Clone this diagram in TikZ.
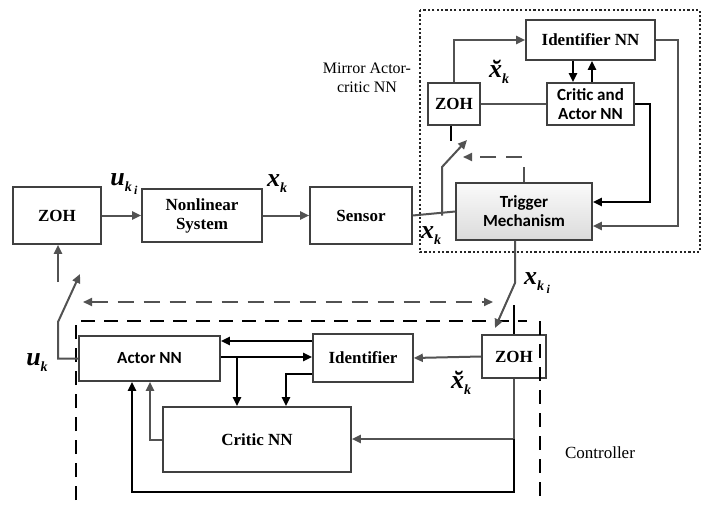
\documentclass[tikz,border=0pt]{standalone}
\usepackage{fontspec}
\setmainfont{Liberation Serif}
\newfontfamily\tms{Liberation Serif}
\newfontfamily\calib{Carlito}
\usetikzlibrary{arrows.meta}
\newcommand\bigv[1]{{\tms\fontsize{26}{28}\selectfont\bfseries\itshape #1}}
\newcommand\subk{\raisebox{-6pt}{\tms\fontsize{14}{14}\selectfont\bfseries\itshape k}}
\newcommand\subki{\raisebox{-6pt}{\tms\fontsize{14}{14}\selectfont\bfseries\itshape k\,\raisebox{-3pt}{\fontsize{12}{12}\selectfont i}}}
\begin{document}
\begin{tikzpicture}[x=1pt,y=-1pt,
  box/.style={draw=black!75, line width=1.6pt, inner sep=0pt, align=center,
    font=\tms\fontsize{17}{19}\selectfont\bfseries},
  sbox/.style={box, font=\calib\fontsize{17}{19}\selectfont\bfseries},
  gl/.style={draw=black!68, line width=2pt},
  bl/.style={draw=black, line width=2.3pt},
  arr/.style={-{Triangle[length=9pt,width=8pt]}},
  darr/.style={{Triangle[length=9pt,width=8pt]}-{Triangle[length=9pt,width=8pt]}},
  gdash/.style={gl, dash pattern=on 16pt off 10pt},
  lbl/.style={inner sep=0pt, anchor=center},
  txt/.style={inner sep=0pt, align=center, font=\tms\fontsize{16}{19}\selectfont},
]
\useasboundingbox (0,0) rectangle (704,506);

% top row
\node[box, minimum width=88, minimum height=57] (zohL) at (57,215.5) {ZOH};
\node[box, minimum width=120, minimum height=53] (nls) at (202,215.5) {Nonlinear\\System};
\node[box, minimum width=102, minimum height=57] (sensor) at (361,215.5) {Sensor};
\node[sbox, minimum width=136, minimum height=57, top color=black!2, bottom color=black!14] (trig) at (524,211.5) {Trigger\\Mechanism};

% mirror
\node[box, minimum width=52, minimum height=42] (zohM) at (454,104) {ZOH};
\node[box, minimum width=129, minimum height=40] (idnn) at (590.5,40) {Identifier NN};
\node[sbox, minimum width=87, minimum height=42] (can) at (590.5,104) {Critic and\\Actor NN};

% controller
\node[sbox, minimum width=141, minimum height=45] (actor) at (149.5,358.5) {Actor NN};
\node[box, minimum width=100, minimum height=48] (ident) at (363,358) {Identifier};
\node[box, minimum width=188, minimum height=65] (critic) at (257,439.5) {Critic NN};
\node[box, minimum width=64, minimum height=43] (zohC) at (514,356.5) {ZOH};

% frames
\draw[black!85, line width=1.8pt, dash pattern=on 2.2pt off 2.2pt] (420,10) rectangle (700,252);
\draw[black, line width=2pt, dash pattern=on 14pt off 9pt] (76,500) -- (76,321) -- (527,321);
\draw[black, line width=2pt, dash pattern=on 14pt off 9pt] (540,321) -- (540,500);

% coordinates
\coordinate (s1b) at (442,215.5);
\coordinate (s1k) at (442,167);
\coordinate (s1t) at (467,140);
\coordinate (mstub) at (451,141);
\coordinate (tstub) at (524,167);
\coordinate (md1) at (522,157);
\coordinate (md2) at (463,157);
\coordinate (tk) at (515,283);
\coordinate (tt) at (495,328);
\coordinate (cstub) at (514,305);
\coordinate (cb) at (514,439);
\coordinate (lk) at (58,322);
\coordinate (lt) at (80,274);
\coordinate (lu) at (58,282);
\coordinate (dl) at (83,302);
\coordinate (dr) at (493,302);

% top row connectors
\draw[gl,arr] (zohL.east) -- (nls.west);
\draw[gl,arr] (nls.east) -- (sensor.west);
\draw[gl] (sensor.east) -- (trig.west);
\draw[gl,arr] (s1b) -- (s1k) -- (s1t);
\draw[black, line width=1.8pt] ([xshift=-3pt]zohM.south) -- (mstub);
\draw[gl] (trig.north) -- (tstub);
\draw[gdash,arr] (md1) -- (md2);

% mirror connectors
\draw[gl,arr] (zohM.north) |- (idnn.west);
\draw[gl] (zohM.east) -- (can.west);
\draw[bl,arr] ([xshift=-17.5pt]idnn.south) -- ([xshift=-17.5pt]can.north);
\draw[bl,arr] ([xshift=1.5pt]can.north) -- ([xshift=1.5pt]idnn.south);
\draw[bl,arr] (can.east) -| (650,202) -- (trig.east |- 0,202);
\draw[gl,arr] (idnn.east) -| (678,226) -- (trig.east |- 0,226);

% trigger to controller
\draw[gl,arr] ([xshift=-9pt]trig.south) -- (tk) -- (tt);
\draw[black, line width=1.8pt] (cstub) -- (zohC.north);

% controller connectors
\draw[gl,arr] (zohC.west) -- (ident.east);
\draw[gl,arr] (zohC.south) -- (cb) -- (critic.east |- cb);
\draw[bl,arr] (cb) -- (514,492) -| (actor.south -| 132,0);
\draw[bl,arr] (ident.west |- 0,341) -- (actor.east |- 0,341);
\draw[bl,arr] (actor.east |- 0,357) -- (ident.west |- 0,357);
\draw[bl,arr] (237,357) -- (critic.north -| 237,0);
\draw[bl,arr] (ident.west |- 0,374) -| (critic.north -| 286,0);
\draw[gl,arr] (critic.west) -| (actor.south -| 150,0);
\draw[gl,arr] (actor.west) -| (lk) -- (lt);
\draw[gl,arr] (lu) -- (zohL.south -| lu);
\draw[gdash,darr] (dl) -- (dr);

% labels
\node[lbl] (l1) at (124,184) {\bigv{u}\subki};
\node[lbl] (l2) at (277,184) {\bigv{x}\subk};
\node[lbl] (l3) at (431,236) {\bigv{x}\subk};
\node[lbl] (l4) at (499,72) {\bigv{\u{x}}\subk};
\node[lbl] (l5) at (537,283) {\bigv{x}\subki};
\node[lbl] (l6) at (461,383) {\bigv{\u{x}}\subk};
\node[lbl] (l7) at (37,363) {\bigv{u}\subk};
\node[txt] (mir) at (367,78) {Mirror Actor-\\critic NN};
\node[txt, font=\tms\fontsize{17}{19}\selectfont] (ctl) at (600,453) {Controller};
\end{tikzpicture}
\end{document}
